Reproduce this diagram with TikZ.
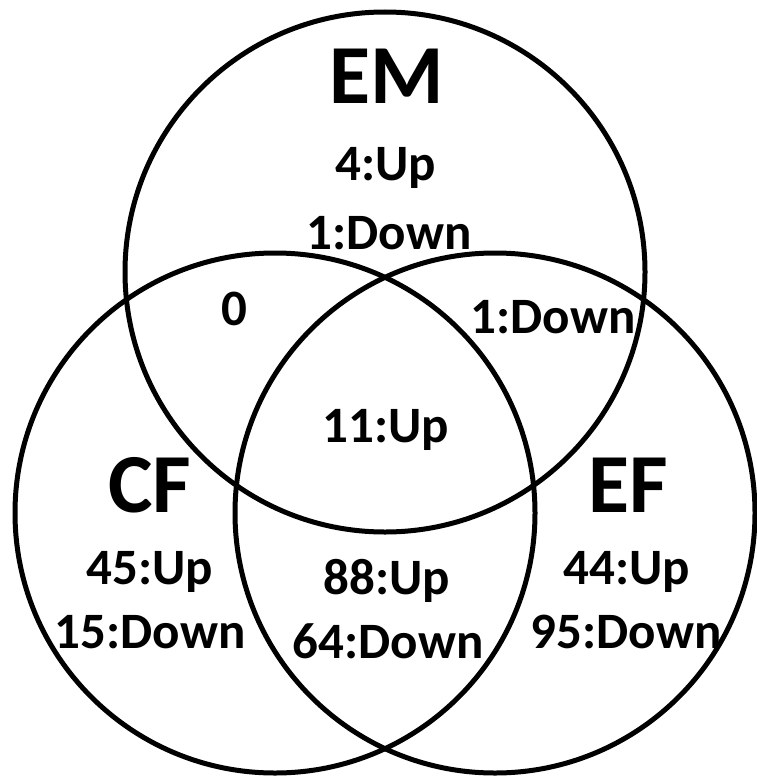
\documentclass[tikz,border=0pt]{standalone}
\usepackage{fontspec}
\setmainfont{Carlito}
\begin{document}
\begin{tikzpicture}[x=1pt,y=-1pt,
  ring/.style={draw=black,line width=5pt},
  lbl/.style={anchor=base,inner sep=0pt,font=\bfseries\fontsize{51}{51}\selectfont},
  big/.style={anchor=base,inner sep=0pt,font=\bfseries\fontsize{84}{84}\selectfont}]
\useasboundingbox (0,0) rectangle (757,776);
\node[ring,circle,minimum size=520pt,inner sep=0pt] (em) at (385,272) {};
\node[ring,circle,minimum size=520pt,inner sep=0pt] (cf) at (275,513) {};
\node[ring,circle,minimum size=520pt,inner sep=0pt] (ef) at (495,513) {};
\node[big] (tem) at (387,103) {EM};
\node[lbl] (em1) at (386,180) {4:Up};
\node[lbl] (em2) at (389,249) {1:Down};
\node[lbl] (cfem) at (234,325) {0};
\node[lbl] (efem) at (553,333) {1:Down};
\node[lbl] (all) at (386,442) {11:Up};
\node[big] (tcf) at (150,512) {CF};
\node[big] (tef) at (628,512) {EF};
\node[lbl] (cf1) at (150,584) {45:Up};
\node[lbl] (cf2) at (150,648) {15:Down};
\node[lbl] (cfef1) at (387,594) {88:Up};
\node[lbl] (cfef2) at (388,658) {64:Down};
\node[lbl] (ef1) at (627,584) {44:Up};
\node[lbl] (ef2) at (626,648) {95:Down};
\end{tikzpicture}
\end{document}
